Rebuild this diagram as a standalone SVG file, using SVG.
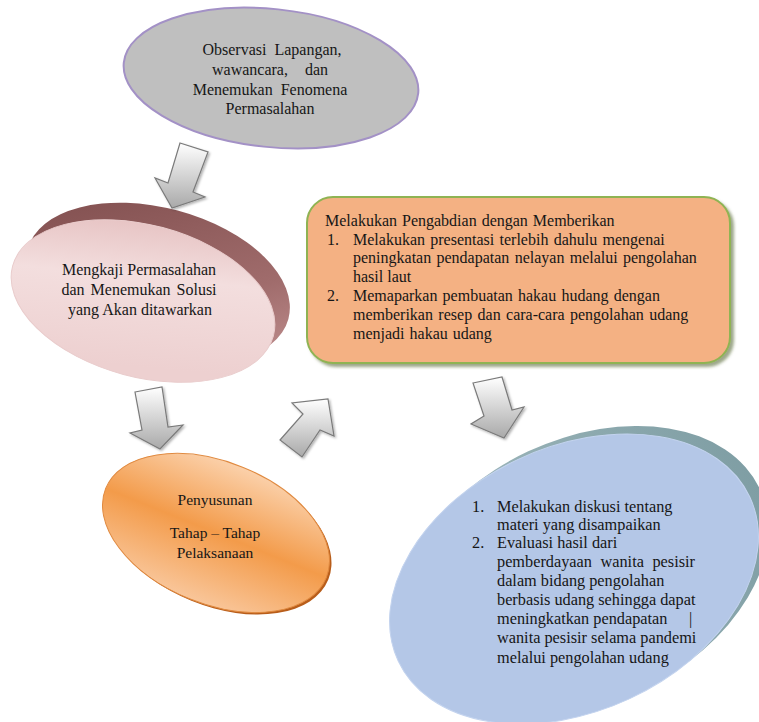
<svg xmlns="http://www.w3.org/2000/svg" width="759" height="722" viewBox="0 0 759 722">
<defs>
<style>
text{font-family:"Liberation Serif","Times New Roman",serif;font-size:16px;fill:#161616}
.c{text-anchor:middle}
.o{font-size:15.5px}
.b{font-size:16.3px}
.arrow{fill:url(#gArrow);stroke:#7a7a7a;stroke-width:1.2;stroke-linejoin:miter;filter:url(#sh)}
</style>
<linearGradient id="gArrow" x1="0" y1="0" x2="0" y2="1">
<stop offset="0" stop-color="#ffffff"/><stop offset="1" stop-color="#a9a9a9"/>
</linearGradient>
<linearGradient id="gPinkRim" x1="0" y1="0" x2="1" y2="1">
<stop offset="0" stop-color="#7e4c4c"/><stop offset="0.6" stop-color="#a06c6c"/><stop offset="1" stop-color="#c89898"/>
</linearGradient>
<linearGradient id="gPink" x1="0" y1="0" x2="0.3" y2="1">
<stop offset="0" stop-color="#e3bcbc"/><stop offset="0.45" stop-color="#f3dede"/><stop offset="1" stop-color="#edd0d0"/>
</linearGradient>
<linearGradient id="gOrange" gradientUnits="userSpaceOnUse" x1="0" y1="460" x2="0" y2="606">
<stop offset="0" stop-color="#fbd2ad"/><stop offset="0.5" stop-color="#f39b4a"/><stop offset="1" stop-color="#f9c79c"/>
</linearGradient>
<linearGradient id="gBlueRim" x1="0" y1="0" x2="1" y2="0">
<stop offset="0" stop-color="#a9c0c4"/><stop offset="1" stop-color="#7f9ea4"/>
</linearGradient>
<filter id="sh" x="-20%" y="-20%" width="150%" height="150%">
<feDropShadow dx="1.5" dy="1.5" stdDeviation="1.2" flood-color="#000" flood-opacity="0.3"/>
</filter>
<filter id="shBox" x="-5%" y="-5%" width="115%" height="120%">
<feDropShadow dx="3" dy="3" stdDeviation="1.5" flood-color="#4d6128" flood-opacity="0.55"/>
</filter>
</defs>

<g id="node-observasi">
<ellipse cx="271" cy="78" rx="148" ry="69" transform="rotate(6 271 78)" fill="#bfbfbf" stroke="#a391c6" stroke-width="2"/>
<text class="c" x="272" y="55" word-spacing="4">Observasi Lapangan,</text>
<text class="c" x="270" y="75" word-spacing="13">wawancara, dan</text>
<text class="c" x="270" y="95" word-spacing="4">Menemukan Fenomena</text>
<text class="c" x="270" y="114">Permasalahan</text>
</g>

<g id="node-mengkaji">
<ellipse cx="158" cy="284" rx="135" ry="76" transform="rotate(15 158 284)" fill="url(#gPinkRim)"/>
<ellipse cx="143" cy="301" rx="135" ry="76" transform="rotate(15 143 301)" fill="url(#gPink)" stroke="#e9cccc" stroke-width="1"/>
<text class="c" x="139" y="275">Mengkaji Permasalahan</text>
<text class="c" x="139" y="295" word-spacing="2">dan Menemukan Solusi</text>
<text class="c" x="140" y="315">yang Akan ditawarkan</text>
</g>

<g id="node-pengabdian">
<rect x="307" y="197" width="423" height="166" rx="26" ry="26" fill="#f4b183" stroke="#8fb352" stroke-width="2" filter="url(#shBox)"/>
<text x="325" y="226" word-spacing="1">Melakukan Pengabdian dengan Memberikan</text>
<text x="327" y="245">1.</text>
<text x="353" y="245" word-spacing="1.3">Melakukan presentasi terlebih dahulu mengenai</text>
<text x="353" y="263" word-spacing="1.3">peningkatan pendapatan nelayan melalui pengolahan</text>
<text x="353" y="282">hasil laut</text>
<text x="327" y="301">2.</text>
<text x="353" y="301" word-spacing="1.2">Memaparkan pembuatan hakau hudang dengan</text>
<text x="353" y="320" word-spacing="1.4">memberikan resep dan cara-cara pengolahan udang</text>
<text x="353" y="339" word-spacing="1">menjadi hakau udang</text>
</g>

<g id="node-penyusunan">
<ellipse cx="218" cy="535" rx="119" ry="71" transform="rotate(22 218 535)" fill="#b85d1a"/>
<ellipse cx="216" cy="533" rx="119" ry="71" transform="rotate(22 216 533)" fill="url(#gOrange)" stroke="#e08a40" stroke-width="1"/>
<text class="c o" x="215" y="505">Penyusunan</text>
<text class="c o" x="215" y="538">Tahap  – Tahap</text>
<text class="c o" x="215" y="558">Pelaksanaan</text>
</g>

<g id="node-evaluasi">
<ellipse cx="584" cy="571" rx="194" ry="132" transform="rotate(-25 584 571)" fill="url(#gBlueRim)"/>
<ellipse cx="574" cy="579" rx="194" ry="132" transform="rotate(-25 574 579)" fill="#b4c7e7" stroke="#c3d3ee" stroke-width="1"/>
<text class="b" x="472" y="512">1.</text>
<text class="b" x="497" y="512">Melakukan diskusi tentang</text>
<text class="b" x="497" y="530">materi yang disampaikan</text>
<text class="b" x="472" y="548">2.</text>
<text class="b" x="497" y="548">Evaluasi hasil dari</text>
<text class="b" x="497" y="567" word-spacing="4.5">pemberdayaan wanita pesisir</text>
<text class="b" x="497" y="586">dalam bidang pengolahan</text>
<text class="b" x="497" y="605">berbasis udang sehingga dapat</text>
<text class="b" x="497" y="624">meningkatkan pendapatan</text>
<text class="b" x="689" y="624">|</text>
<text class="b" x="497" y="643">wanita pesisir selama pandemi</text>
<text class="b" x="497" y="663">melalui pengolahan udang</text>
</g>

<g id="connectors">
<polygon class="arrow" points="180,143 208,152 193,192 205,197 172,208 155,178 168,183"/>
<polygon class="arrow" points="135,392 162,387 168,427 183,425 160,449 130,433 142,430"/>
<polygon class="arrow" points="328,399 334,436 320,430 302,457 280,440 303,414 292,403"/>
<polygon class="arrow" points="473,383 502,377 512,410 524,407 504,438 471,424 484,416"/>
</g>
</svg>
